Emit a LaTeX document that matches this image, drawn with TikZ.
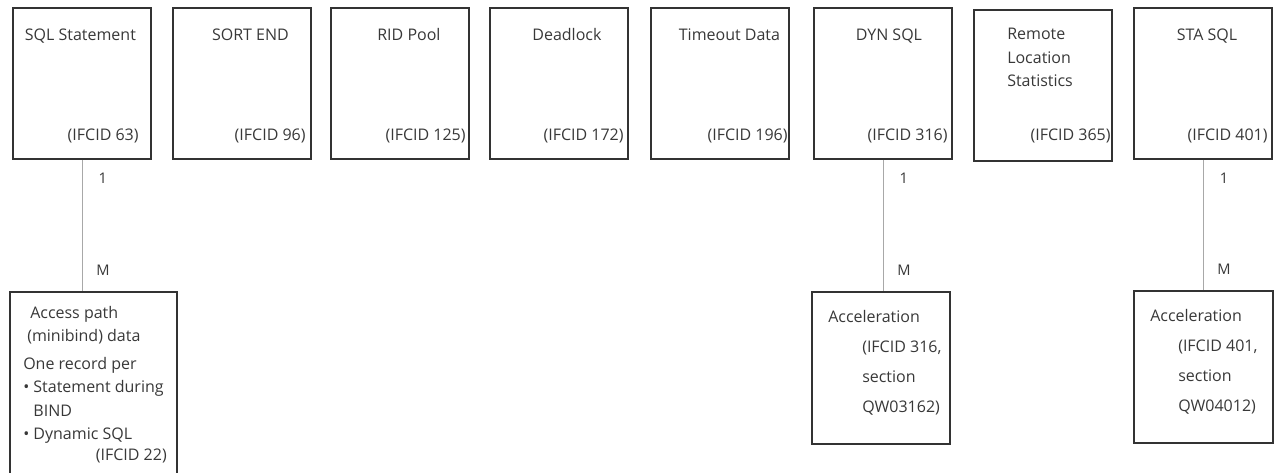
\documentclass[tikz,border=0pt]{standalone}
\usepackage{fontspec}
\setmainfont{Open Sans}
\usetikzlibrary{positioning}
\definecolor{boxline}{HTML}{333333}
\definecolor{txtgray}{HTML}{383838}
\definecolor{linkgray}{HTML}{A8A8A8}
\tikzset{
  recbox/.style={draw=boxline, line width=1.4pt, inner sep=0pt, anchor=north west,
    minimum width=103.5pt, minimum height=113.25pt},
  txt/.style={text=txtgray, inner sep=0pt, font=\fontsize{12}{17.5}\selectfont},
  card/.style={text=txtgray, inner sep=0pt, font=\fontsize{11}{12}\selectfont},
  link/.style={draw=linkgray, line width=0.6pt}
}
\begin{document}
\begin{tikzpicture}[x=0.75pt, y=-0.75pt]
  \clip (0,0) rectangle (1275,472);
  % trace records
  \foreach \n/\x/\dt/\title/\dr/\id in {sql/12/-1.5/SQL Statement/13/63,
      sort/172/8.5/SORT END/6/96, rid/330/9/RID Pool/4/125,
      lock/489/8/Deadlock/5/172, tout/650/9.5/Timeout Data/2/196,
      dyn/813/6/DYN SQL/5/316, sta/1133/4/STA SQL/5/401} {
    \node[recbox] (\n) at (\x,7) {};
    \node[txt, anchor=base] (\n-title) at ([shift={(\dt,33)}]\n.north) {\title};
    \node[txt, anchor=base east] (\n-id) at ([shift={(-\dr,-19)}]\n.south east) {(IFCID \id)};
  }
  \node[recbox] (remote) at (973,9) {};
  \node[txt, align=left, anchor=north west] (remote-title) at (1007,28) {Remote\\Location\\Statistics};
  \node[txt, anchor=base east] (remote-id) at ([shift={(-2,-21)}]remote.south east) {(IFCID 365)};
  % detail records
  \node[recbox, minimum width=125.25pt, minimum height=150pt] (bind) at (9,291) {};
  \node[txt, align=left, anchor=north west] (bind-text) at (23,306)
    {\hspace*{5.25pt}Access path\\ \hspace*{3pt}(minibind) data\\[3.4pt]
     One record per\\ \textbullet\ Statement during\\ \phantom{\textbullet\ }BIND\\
     \textbullet\ Dynamic SQL};
  \node[txt, anchor=base east] (bind-id) at (167,460) {(IFCID 22)};
  \node[recbox, minimum height=114pt] (dynacc) at (811,291) {};
  \node[txt, align=left, anchor=north west, font=\fontsize{12}{22.5}\selectfont] (dynacc-text)
    at ([shift={(17,19)}]dynacc.north west)
    {Acceleration\\ \hspace*{25.5pt}(IFCID 316,\\ \hspace*{25.5pt}section\\ \hspace*{25.5pt}QW03162)};
  \node[recbox, minimum width=104.25pt, minimum height=114pt] (staacc) at (1133,290) {};
  \node[txt, align=left, anchor=north west, font=\fontsize{12}{22.5}\selectfont] (staacc-text)
    at ([shift={(17,19)}]staacc.north west)
    {Acceleration\\ \hspace*{21pt}(IFCID 401,\\ \hspace*{21pt}section\\ \hspace*{21pt}QW04012)};
  % one to many
  \foreach \a/\b in {sql/bind, dyn/dynacc, sta/staacc}
    \draw[link] (\a.south) -- node[card, pos=0.14, xshift=15.75pt] {1}
      node[card, pos=0.84, xshift=15.75pt] {M} (\a.south |- \b.north);
\end{tikzpicture}
\end{document}
